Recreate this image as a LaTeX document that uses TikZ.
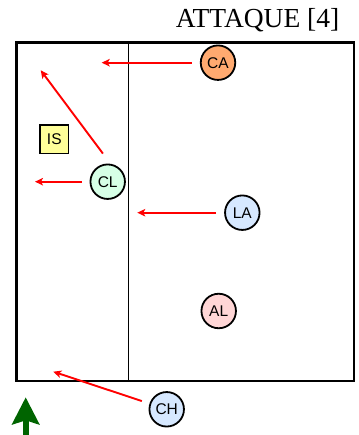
\documentclass[tikz,border=0pt]{standalone}
\usepackage{fontspec}
\setmainfont{Liberation Serif}
\setsansfont{Liberation Sans}
\usetikzlibrary{arrows.meta,positioning}
\definecolor{caOrange}{RGB}{255,170,112}
\definecolor{clMint}{RGB}{214,255,230}
\definecolor{laBlue}{RGB}{214,232,255}
\definecolor{alPink}{RGB}{255,214,214}
\definecolor{isYellow}{RGB}{255,255,153}
\definecolor{runRed}{RGB}{255,0,0}
\definecolor{dirGreen}{RGB}{0,100,0}
\tikzset{
  courtln/.style={line width=2.6pt},
  midln/.style={line width=1.7pt},
  player/.style={circle, draw, line width=1.8pt, minimum size=34.5pt, inner sep=0pt,
    font=\sffamily\fontsize{15.5}{15.5}\selectfont},
  runln/.style={-{Stealth[length=8pt,width=7.5pt,inset=2pt]}, line width=1.9pt, runRed, shorten <=8pt},
}

\begin{document}
\begin{tikzpicture}[x=1pt,y=1pt]
    \useasboundingbox (0,0) rectangle (358,435);
    % title
    \node[anchor=base east, inner sep=0pt, font=\fontsize{27.5}{27.5}\selectfont] (title) at (339.5,407.7) {ATTAQUE [4]};
    % court and middle line
    \draw[courtln] (16.5,54) rectangle (354,392.5);
    \draw[midln] (128.5,54) -- (128.5,392.5);
    % players
    \node[player, fill=caOrange] (CA) at (218,372.3) {CA};
    \node[player, fill=clMint] (CL) at (107.7,253.3) {CL};
    \node[player, fill=laBlue] (LA) at (242.3,222.3) {LA};
    \node[player, fill=alPink] (AL) at (218.7,124) {AL};
    \node[player, fill=laBlue] (CH) at (166.7,25.7) {CH};
    \node[draw, line width=1.8pt, fill=isYellow, minimum size=28.2pt, inner sep=0pt,
      font=\sffamily\fontsize{15.5}{15.5}\selectfont] (IS) at (54.3,295.5) {IS};
    % where the runs end
    \coordinate (caEnd) at (101.7,372.3);
    \coordinate (clUp) at (40.7,364.7);
    \coordinate (clLeft) at (35,253.3);
    \coordinate (laEnd) at (137.3,222.3);
    \coordinate (chEnd) at (53.3,63.3);
    % runs
    \draw[runln] (CA) -- (caEnd);
    \draw[runln, shorten <=12.7pt] (CL.81) -- (clUp);
    \draw[runln] (CL) -- (clLeft);
    \draw[runln] (LA) -- (laEnd);
    \draw[runln] (CH) -- (chEnd);
    % direction of play
    \coordinate (dirBase) at (25.7,0);
    \coordinate (dirTip) at (25.7,37.7);
    \draw[-{Stealth[length=27pt,width=27pt,inset=4pt]}, line width=6pt, dirGreen] (dirBase) -- (dirTip);
\end{tikzpicture}
\end{document}
